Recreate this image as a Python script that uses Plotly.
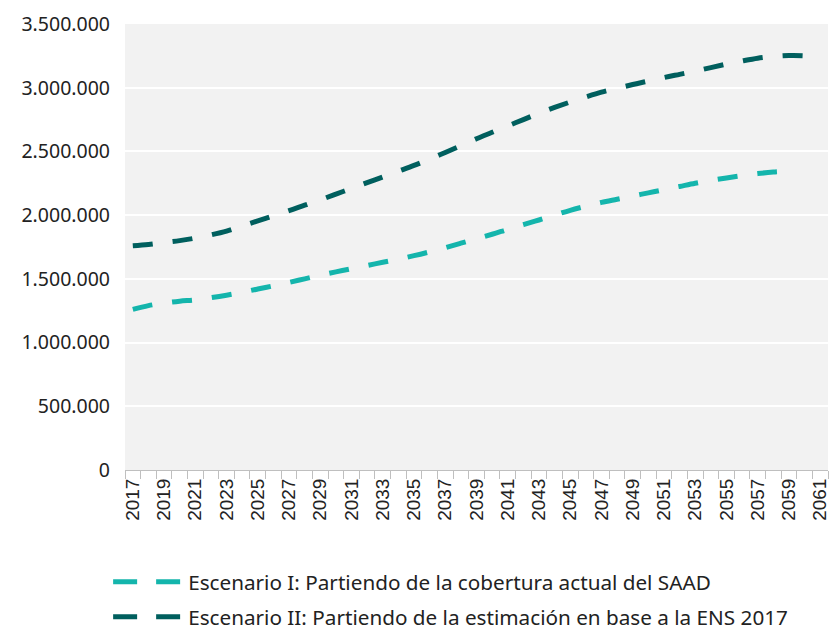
import plotly.graph_objects as go

light_color = "#14B5AC"
dark_color = "#005F5E"

years = list(range(2017, 2062))

escenario_1 = [1260000, 1290000, 1310000, 1325000, 1335000, 1352000, 1372000, 1395000, 1420000,
               1445000, 1472000, 1500000, 1528000, 1555000, 1580000, 1605000, 1630000, 1655000,
               1682000, 1712000, 1745000, 1780000, 1815000, 1850000, 1888000, 1925000, 1962000,
               2000000, 2038000, 2070000, 2100000, 2125000, 2150000, 2175000, 2200000, 2225000,
               2250000, 2272000, 2292000, 2310000, 2326000, 2338000, 2345000, None, None]

escenario_2 = [1760000, 1770000, 1785000, 1800000, 1820000, 1845000, 1875000, 1915000, 1955000,
               1995000, 2035000, 2078000, 2120000, 2165000, 2210000, 2255000, 2300000, 2345000,
               2390000, 2440000, 2492000, 2545000, 2600000, 2650000, 2700000, 2750000, 2800000,
               2845000, 2888000, 2928000, 2965000, 2995000, 3025000, 3052000, 3080000, 3105000,
               3130000, 3158000, 3185000, 3210000, 3232000, 3245000, 3252000, 3250000, 3238000]

names = ["Escenario I: Partiendo de la cobertura actual del SAAD",
         "Escenario II: Partiendo de la estimación en base a la ENS 2017"]
colors = [light_color, dark_color]

fig = go.Figure()
for name, values, color in zip(names, [escenario_1, escenario_2], colors):
    fig.add_trace(go.Scatter(x=years, y=values, name=name, mode="lines", showlegend=False,
                             line=dict(color=color, width=5, dash="20px,20px", shape="spline")))
    # legend entry with its own dash so two dashes fit in the symbol
    fig.add_trace(go.Scatter(x=[None], y=[None], name=name, mode="lines", legendgroup=name,
                             line=dict(color=color, width=5, dash="24px,19px")))

fig.update_xaxes(range=[2016.5, 2061.5], tickvals=years[::2], tickangle=-90,
                 ticks="", showgrid=False, zeroline=False, automargin=False,
                 showline=True, linecolor="#BFBFBF", linewidth=1,
                 minor=dict(tickvals=[y - 0.5 for y in years] + [2061.5], ticks="outside",
                            ticklen=8, tickcolor="#BFBFBF", showgrid=False),
                 tickfont=dict(family="Liberation Sans, Arial", size=19, color="#222222"))
fig.update_yaxes(range=[0, 3500000], dtick=500000, tickformat=",d", automargin=False,
                 gridcolor="white", gridwidth=2, zeroline=False, showline=False,
                 ticklabelstandoff=14, tickfont=dict(size=19.5, color="#222222"))

fig.update_layout(
    width=832, height=627,
    separators=",.",
    font=dict(family="Noto Sans, Open Sans, sans-serif"),
    plot_bgcolor="#F2F2F2", paper_bgcolor="white",
    margin={'t': 24, 'l': 125, 'r': 4, 'b': 157, 'autoexpand': False},
    legend=dict(orientation="v", x=-0.024, xanchor="left", y=-0.206, yanchor="top",
                font=dict(size=20.7, color="#222222"), tracegroupgap=5, itemwidth=70),
)

# drop the page's default body margin so the figure fills the window
fig.write_html("out.html", config={"displayModeBar": False},
               post_script="document.body.style.margin='0';document.body.style.overflow='hidden';")
